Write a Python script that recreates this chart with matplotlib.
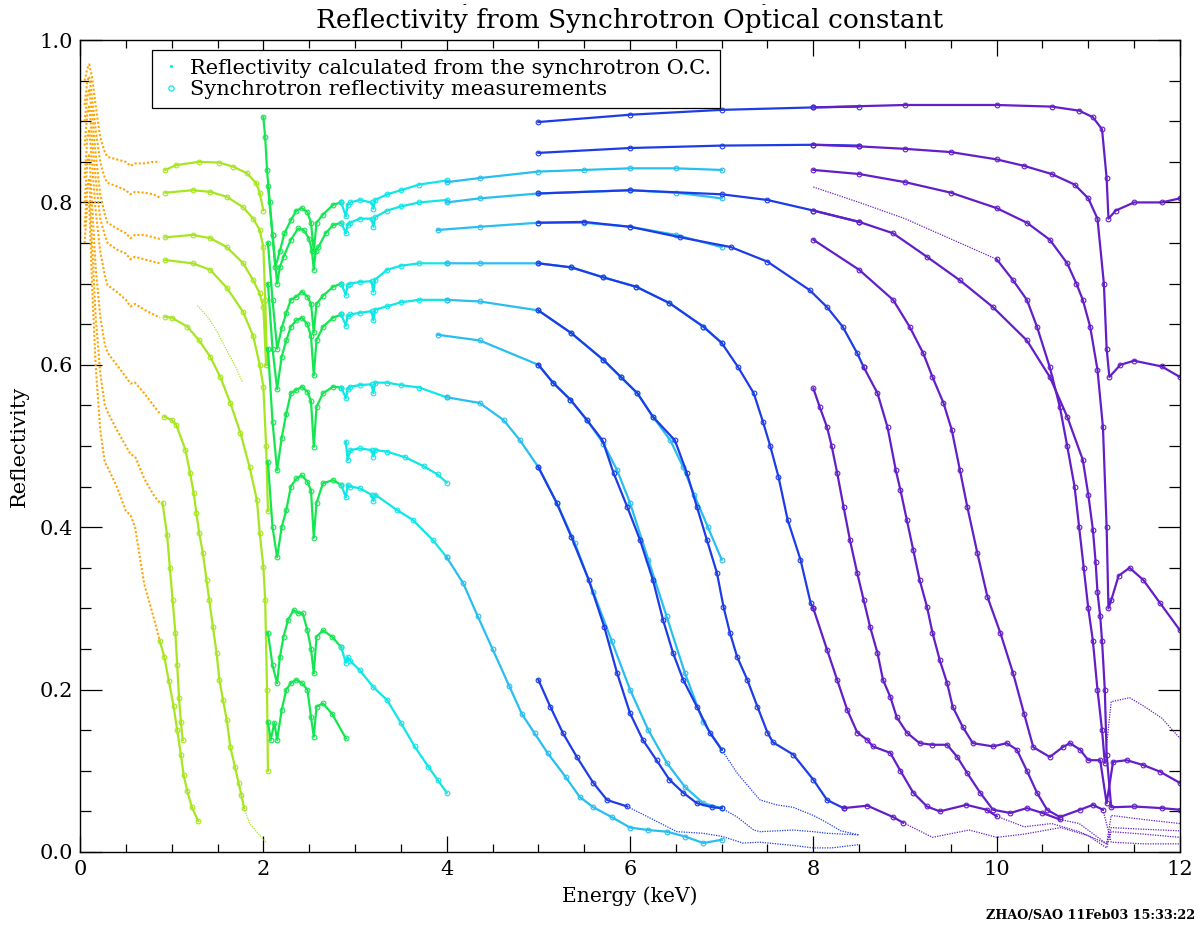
import matplotlib
matplotlib.use("Agg")
import matplotlib.pyplot as plt
from matplotlib.lines import Line2D
from matplotlib.ticker import MultipleLocator

plt.rcParams['font.family'] = ['DejaVu Serif']

# band colours (one per synchrotron energy range)
C_ORG = '#FFA500'
C_YGR = '#A6E620'
C_GRN = '#14E650'
C_CYN = '#10E6E6'
C_SKY = '#28BEF0'
C_BLU = '#1E3CE6'
C_VIO = '#641EC8'

# ---- 0.05 - 0.9 keV (orange)
e_org = [0.05, 0.08, 0.1, 0.13, 0.17, 0.22, 0.27, 0.3, 0.4, 0.5, 0.55, 0.6, 0.7, 0.8, 0.87]
r_o1 = [0.95, 0.965, 0.97, 0.955, 0.92, 0.88, 0.862, 0.856, 0.853, 0.85, 0.845, 0.848, 0.848, 0.85, 0.85]
r_o2 = [0.92, 0.95, 0.955, 0.93, 0.89, 0.85, 0.83, 0.824, 0.82, 0.815, 0.81, 0.813, 0.812, 0.81, 0.806]
r_o3 = [0.90, 0.93, 0.94, 0.91, 0.86, 0.81, 0.785, 0.775, 0.768, 0.762, 0.756, 0.76, 0.76, 0.757, 0.755]
r_o4 = [0.87, 0.91, 0.92, 0.88, 0.83, 0.78, 0.76, 0.75, 0.742, 0.737, 0.73, 0.733, 0.73, 0.727, 0.725]
r_o5 = [0.83, 0.88, 0.89, 0.85, 0.79, 0.74, 0.71, 0.698, 0.69, 0.68, 0.672, 0.675, 0.668, 0.662, 0.658]
r_o6 = [0.80, 0.85, 0.86, 0.80, 0.72, 0.66, 0.625, 0.615, 0.60, 0.585, 0.577, 0.578, 0.565, 0.55, 0.54]
r_o7 = [0.77, 0.82, 0.83, 0.75, 0.66, 0.59, 0.55, 0.542, 0.52, 0.50, 0.49, 0.487, 0.46, 0.44, 0.43]
r_o8 = [0.75, 0.80, 0.80, 0.70, 0.60, 0.52, 0.48, 0.474, 0.45, 0.42, 0.415, 0.40, 0.33, 0.29, 0.26]

# ---- 0.9 - 2.05 keV (yellow green)
e_y1 = [0.93, 1.05, 1.3, 1.52, 1.67, 1.82, 1.92, 1.96, 2.0]
r_y1 = [0.84, 0.846, 0.85, 0.849, 0.844, 0.836, 0.824, 0.812, 0.79]
e_y2 = [0.93, 1.23, 1.42, 1.6, 1.78, 1.89, 1.96, 2.0, 2.02, 2.04]
r_y2 = [0.812, 0.815, 0.813, 0.807, 0.794, 0.78, 0.766, 0.745, 0.68, 0.60]
e_y3 = [0.93, 1.23, 1.42, 1.6, 1.78, 1.89, 1.96, 2.0, 2.03]
r_y3 = [0.757, 0.76, 0.756, 0.745, 0.725, 0.704, 0.688, 0.671, 0.6]
e_y4 = [0.93, 1.23, 1.42, 1.6, 1.78, 1.89, 1.96, 2.0, 2.03, 2.05]
r_y4 = [0.729, 0.725, 0.717, 0.695, 0.665, 0.635, 0.60, 0.573, 0.5, 0.42]
e_y5 = [0.93, 1.0, 1.17, 1.3, 1.42, 1.53, 1.64, 1.75, 1.85, 1.93, 1.96, 2.0, 2.02, 2.04, 2.05]
r_y5 = [0.659, 0.658, 0.647, 0.63, 0.61, 0.585, 0.553, 0.516, 0.474, 0.433, 0.393, 0.351, 0.31, 0.2, 0.1]
e_y6 = [0.92, 1.0, 1.05, 1.15, 1.2, 1.24, 1.27, 1.3, 1.34, 1.38, 1.41, 1.45, 1.49, 1.52, 1.56, 1.6, 1.64, 1.69, 1.73, 1.76, 1.79]
r_y6 = [0.536, 0.532, 0.526, 0.495, 0.467, 0.442, 0.417, 0.393, 0.368, 0.335, 0.31, 0.277, 0.245, 0.212, 0.187, 0.163, 0.129, 0.105, 0.085, 0.07, 0.054]
e_y7 = [0.9, 0.95, 0.98, 1.01, 1.04, 1.06, 1.08, 1.1, 1.12]
r_y7 = [0.43, 0.39, 0.35, 0.31, 0.27, 0.23, 0.19, 0.16, 0.138]
e_y8 = [0.87, 0.92, 0.97, 1.02, 1.06, 1.1, 1.13, 1.17, 1.22, 1.29]
r_y8 = [0.26, 0.24, 0.21, 0.18, 0.15, 0.12, 0.095, 0.075, 0.055, 0.038]
e_y5c = [1.28, 1.4, 1.5, 1.6, 1.7, 1.77]
r_y5c = [0.673, 0.658, 0.64, 0.618, 0.597, 0.579]
e_y6c = [1.79, 1.85, 1.95, 2.03]
r_y6c = [0.054, 0.035, 0.022, 0.012]

# ---- 2.0 - 2.9 keV (green)
e_g1 = [2.0, 2.02, 2.04, 2.07, 2.1, 2.13, 2.18, 2.23, 2.3, 2.36, 2.42, 2.48, 2.52, 2.55, 2.58, 2.65, 2.76, 2.85]
r_g1 = [0.905, 0.88, 0.84, 0.80, 0.76, 0.72, 0.74, 0.762, 0.778, 0.79, 0.793, 0.788, 0.775, 0.74, 0.775, 0.785, 0.797, 0.80]
e_g2 = [2.05, 2.1, 2.15, 2.18, 2.22, 2.3, 2.38, 2.44, 2.5, 2.53, 2.55, 2.57, 2.6, 2.68, 2.76, 2.85]
r_g2 = [0.82, 0.76, 0.70, 0.72, 0.733, 0.754, 0.768, 0.766, 0.755, 0.74, 0.717, 0.74, 0.745, 0.762, 0.772, 0.775]
e_grn = [2.05, 2.1, 2.15, 2.2, 2.25, 2.3, 2.36, 2.42, 2.48, 2.52, 2.55, 2.58, 2.65, 2.76, 2.85]
r_g3 = [0.75, 0.68, 0.62, 0.645, 0.664, 0.68, 0.684, 0.69, 0.684, 0.675, 0.64, 0.675, 0.685, 0.696, 0.70]
r_g4 = [0.70, 0.62, 0.57, 0.61, 0.63, 0.647, 0.655, 0.658, 0.65, 0.635, 0.587, 0.63, 0.647, 0.658, 0.662]
r_g5 = [0.62, 0.53, 0.47, 0.51, 0.54, 0.565, 0.569, 0.573, 0.567, 0.555, 0.499, 0.548, 0.565, 0.573, 0.572]
r_g6 = [0.48, 0.40, 0.363, 0.40, 0.421, 0.45, 0.46, 0.464, 0.456, 0.445, 0.387, 0.43, 0.454, 0.458, 0.452]
e_g7 = [2.05, 2.1, 2.15, 2.18, 2.22, 2.27, 2.33, 2.38, 2.43, 2.48, 2.52, 2.55, 2.58, 2.65, 2.75, 2.85]
r_g7 = [0.27, 0.23, 0.208, 0.24, 0.265, 0.286, 0.298, 0.294, 0.294, 0.273, 0.25, 0.22, 0.265, 0.273, 0.265, 0.252]
e_g8 = [2.05, 2.08, 2.12, 2.15, 2.2, 2.25, 2.3, 2.36, 2.42, 2.48, 2.52, 2.55, 2.58, 2.65, 2.75, 2.9]
r_g8 = [0.16, 0.138, 0.159, 0.138, 0.175, 0.2, 0.208, 0.212, 0.208, 0.2, 0.166, 0.142, 0.179, 0.183, 0.17, 0.14]

# ---- 2.85 - 4 keV (cyan)
e_cyn = [2.85, 2.9, 2.92, 2.95, 3.05, 3.18, 3.2, 3.22, 3.35, 3.5, 3.7, 4.0]
r_c1 = [0.80, 0.783, 0.797, 0.80, 0.803, 0.80, 0.792, 0.803, 0.81, 0.815, 0.822, 0.827]
r_c2 = [0.775, 0.762, 0.772, 0.775, 0.78, 0.78, 0.77, 0.782, 0.79, 0.795, 0.80, 0.803]
r_c3 = [0.70, 0.686, 0.698, 0.70, 0.702, 0.703, 0.69, 0.705, 0.717, 0.722, 0.725, 0.725]
r_c4 = [0.662, 0.648, 0.66, 0.662, 0.664, 0.666, 0.655, 0.668, 0.672, 0.677, 0.68, 0.68]
r_c5 = [0.572, 0.559, 0.57, 0.573, 0.575, 0.576, 0.565, 0.578, 0.578, 0.575, 0.572, 0.56]
e_c6 = [2.9, 2.92, 2.95, 3.05, 3.18, 3.2, 3.22, 3.35, 3.55, 3.75, 3.9, 4.0]
r_c6 = [0.505, 0.483, 0.495, 0.497, 0.495, 0.487, 0.495, 0.493, 0.486, 0.475, 0.465, 0.455]
e_c7 = [2.85, 2.9, 2.92, 2.95, 3.05, 3.18, 3.2, 3.22, 3.46, 3.63, 3.85, 4.0]
r_c7 = [0.452, 0.437, 0.452, 0.45, 0.448, 0.44, 0.432, 0.44, 0.421, 0.409, 0.384, 0.363]
e_c8 = [2.85, 2.9, 2.92, 2.95, 3.05, 3.2, 3.35, 3.5, 3.65, 3.8, 3.9, 4.0]
r_c8 = [0.252, 0.233, 0.24, 0.235, 0.224, 0.203, 0.187, 0.159, 0.13, 0.105, 0.089, 0.073]

# ---- 3.9 - 7 keV (sky blue)
e_s1 = [4.0, 4.36, 5.0, 5.5, 6.0, 6.5, 7.0]
r_s1 = [0.825, 0.83, 0.838, 0.84, 0.842, 0.842, 0.84]
e_s2 = [4.0, 4.36, 5.0, 6.0, 6.5, 7.0]
r_s2 = [0.80, 0.805, 0.811, 0.815, 0.812, 0.805]
e_s3 = [3.9, 4.36, 5.0, 5.5, 6.0, 6.5, 7.0]
r_s3 = [0.766, 0.77, 0.775, 0.775, 0.77, 0.76, 0.745]
e_s4 = [4.0, 4.36, 5.0, 5.36, 5.7, 6.07, 6.43, 6.8, 7.0]
r_s4 = [0.725, 0.725, 0.725, 0.72, 0.708, 0.696, 0.676, 0.647, 0.627]
e_s5 = [4.0, 4.36, 5.0, 5.36, 5.71, 5.9, 6.08, 6.25, 6.44, 6.58, 6.7, 6.85, 7.0]
r_s5 = [0.68, 0.678, 0.667, 0.639, 0.606, 0.585, 0.565, 0.536, 0.507, 0.474, 0.44, 0.40, 0.36]
e_s6 = [3.9, 4.36, 5.0, 5.16, 5.35, 5.53, 5.71, 5.86, 6.0, 6.2, 6.4, 6.6, 6.8, 7.0]
r_s6 = [0.637, 0.63, 0.60, 0.578, 0.557, 0.532, 0.503, 0.47, 0.43, 0.36, 0.29, 0.22, 0.16, 0.126]
e_s7 = [4.0, 4.36, 4.62, 4.8, 5.0, 5.2, 5.4, 5.6, 5.8, 6.0, 6.2, 6.4, 6.6, 6.8, 7.0]
r_s7 = [0.56, 0.553, 0.532, 0.507, 0.474, 0.43, 0.38, 0.32, 0.26, 0.2, 0.15, 0.11, 0.08, 0.06, 0.054]
e_s8 = [4.0, 4.18, 4.34, 4.5, 4.68, 4.82, 4.96, 5.1, 5.3, 5.45, 5.6, 5.8, 6.0, 6.2, 6.4, 6.6, 6.8, 7.0]
r_s8 = [0.363, 0.331, 0.29, 0.25, 0.205, 0.17, 0.146, 0.122, 0.092, 0.068, 0.055, 0.043, 0.03, 0.027, 0.025, 0.019, 0.011, 0.015]

# ---- 5 - 8.5 keV (blue)
e_b1 = [5.0, 6.0, 7.0, 8.0, 8.5]
r_b1 = [0.899, 0.908, 0.914, 0.917, 0.918]
e_b2 = [5.0, 6.0, 7.0, 8.0, 8.5]
r_b2 = [0.861, 0.867, 0.870, 0.871, 0.870]
e_b3 = [5.0, 6.0, 7.0, 7.5, 8.0, 8.5]
r_b3 = [0.811, 0.815, 0.81, 0.803, 0.79, 0.776]
e_b4 = [5.0, 5.5, 6.0, 6.55, 7.1, 7.5, 7.96, 8.15, 8.32, 8.48, 8.55]
r_b4 = [0.775, 0.776, 0.77, 0.757, 0.745, 0.727, 0.692, 0.671, 0.647, 0.614, 0.597]
e_b5 = [5.0, 5.36, 5.7, 6.07, 6.43, 6.8, 7.0, 7.18, 7.35, 7.45, 7.53, 7.62, 7.72, 7.86, 7.97, 8.0]
r_b5 = [0.725, 0.72, 0.708, 0.696, 0.676, 0.647, 0.627, 0.597, 0.565, 0.53, 0.50, 0.462, 0.409, 0.36, 0.307, 0.30]
e_b6 = [5.0, 5.36, 5.71, 5.9, 6.08, 6.25, 6.49, 6.62, 6.73, 6.84, 6.95, 7.02, 7.09, 7.17, 7.28, 7.39, 7.5, 7.56, 7.78, 8.0, 8.15, 8.33]
r_b6 = [0.667, 0.639, 0.606, 0.585, 0.565, 0.536, 0.507, 0.467, 0.425, 0.384, 0.343, 0.302, 0.27, 0.24, 0.212, 0.179, 0.147, 0.135, 0.12, 0.089, 0.064, 0.054]
e_b7 = [5.0, 5.16, 5.35, 5.53, 5.7, 5.82, 5.97, 6.11, 6.25, 6.36, 6.47, 6.58, 6.73, 6.87, 7.0]
r_b7 = [0.60, 0.578, 0.557, 0.532, 0.507, 0.467, 0.425, 0.384, 0.335, 0.286, 0.245, 0.212, 0.179, 0.147, 0.126]
e_b8 = [5.0, 5.2, 5.36, 5.55, 5.72, 5.86, 6.0, 6.14, 6.29, 6.43, 6.58, 6.73, 6.9, 7.0]
r_b8 = [0.474, 0.43, 0.388, 0.335, 0.277, 0.22, 0.171, 0.138, 0.113, 0.089, 0.073, 0.06, 0.055, 0.054]
e_b9 = [5.0, 5.13, 5.27, 5.42, 5.6, 5.75, 5.97]
r_b9 = [0.212, 0.179, 0.146, 0.117, 0.085, 0.064, 0.056]
# blue calculated tails
e_b7c = [7.0, 7.17, 7.35, 7.42, 7.6, 7.78, 8.0, 8.15, 8.3, 8.5]
r_b7c = [0.126, 0.097, 0.073, 0.064, 0.058, 0.055, 0.045, 0.036, 0.026, 0.021]
e_b8c = [7.0, 7.17, 7.35, 7.42, 7.6, 7.78, 8.0, 8.15, 8.5]
r_b8c = [0.054, 0.043, 0.027, 0.025, 0.026, 0.027, 0.025, 0.023, 0.021]
e_b9c = [5.97, 6.25, 6.51, 6.8, 7.01, 7.23, 7.42, 7.78, 8.0, 8.2, 8.5]
r_b9c = [0.056, 0.04, 0.025, 0.023, 0.019, 0.011, 0.012, 0.008, 0.005, 0.005, 0.009]

# ---- 8 - 12 keV (violet)
e_v1 = [8.0, 9.0, 10.0, 10.6, 10.9, 11.05, 11.15, 11.2, 11.22, 11.3, 11.5, 11.8, 12.0]
r_v1 = [0.917, 0.92, 0.92, 0.918, 0.913, 0.905, 0.89, 0.83, 0.78, 0.79, 0.80, 0.80, 0.805]
e_v2 = [8.0, 8.5, 9.0, 9.5, 10.0, 10.3, 10.6, 10.85, 11.0, 11.1, 11.17, 11.2, 11.23, 11.35, 11.5, 11.8, 12.0]
r_v2 = [0.871, 0.869, 0.866, 0.862, 0.853, 0.845, 0.835, 0.822, 0.805, 0.78, 0.70, 0.62, 0.585, 0.60, 0.605, 0.598, 0.585]
e_v3 = [8.0, 8.5, 9.0, 9.5, 10.0, 10.33, 10.58, 10.77, 10.87, 10.94, 11.02, 11.1, 11.16, 11.2, 11.22, 11.25, 11.33, 11.45, 11.6, 11.78, 12.0]
r_v3 = [0.84, 0.835, 0.825, 0.812, 0.793, 0.775, 0.754, 0.725, 0.70, 0.68, 0.647, 0.594, 0.523, 0.40, 0.30, 0.31, 0.34, 0.35, 0.335, 0.307, 0.273]
e_v3c = [8.0, 8.5, 9.0, 9.5, 10.0]
r_v3c = [0.819, 0.80, 0.78, 0.755, 0.73]
e_v3m = [10.0, 10.18, 10.33, 10.44, 10.58, 10.69, 10.77, 10.85, 10.9, 10.95, 11.0, 11.05, 11.1, 11.15, 11.18]
r_v3m = [0.73, 0.704, 0.68, 0.647, 0.597, 0.548, 0.5, 0.45, 0.40, 0.35, 0.30, 0.26, 0.2, 0.15, 0.11]
e_v4 = [8.0, 8.5, 8.87, 9.24, 9.6, 9.96, 10.33, 10.58, 10.77, 10.94, 11.0, 11.05, 11.08, 11.1, 11.13, 11.15, 11.18, 11.2, 11.25, 11.5, 11.8, 12.0]
r_v4 = [0.79, 0.776, 0.762, 0.733, 0.704, 0.671, 0.63, 0.585, 0.536, 0.483, 0.44, 0.397, 0.357, 0.32, 0.29, 0.26, 0.2, 0.12, 0.055, 0.056, 0.054, 0.052]
e_v5 = [8.0, 8.5, 8.87, 9.05, 9.2, 9.3, 9.42, 9.51, 9.6, 9.68, 9.79, 9.9, 10.04, 10.18, 10.3, 10.4, 10.58, 10.72, 10.8, 10.91, 11.0, 11.13, 11.2, 11.27, 11.42, 11.6, 11.78, 12.0]
r_v5 = [0.754, 0.717, 0.68, 0.647, 0.614, 0.585, 0.553, 0.52, 0.47, 0.425, 0.368, 0.314, 0.27, 0.22, 0.17, 0.129, 0.117, 0.129, 0.134, 0.126, 0.113, 0.113, 0.06, 0.111, 0.113, 0.107, 0.099, 0.085]
e_v6 = [8.0, 8.15, 8.26, 8.37, 8.48, 8.59, 8.65, 8.84, 8.95, 9.09, 9.24, 9.38, 9.67, 9.89, 10.0]
r_v6 = [0.30, 0.249, 0.212, 0.175, 0.147, 0.138, 0.13, 0.122, 0.10, 0.073, 0.056, 0.05, 0.058, 0.052, 0.044]
e_v7 = [8.55, 8.7, 8.81, 8.9, 8.95, 9.02, 9.09, 9.16, 9.24, 9.3, 9.38, 9.46, 9.52, 9.63, 9.74, 9.96, 10.11, 10.22, 10.33, 10.44, 10.55, 10.69, 10.91, 11.05, 11.16]
r_v7 = [0.597, 0.565, 0.523, 0.47, 0.446, 0.409, 0.372, 0.335, 0.302, 0.27, 0.236, 0.208, 0.179, 0.154, 0.134, 0.13, 0.134, 0.126, 0.10, 0.073, 0.052, 0.043, 0.052, 0.058, 0.052]
e_v8 = [8.0, 8.07, 8.15, 8.2, 8.26, 8.33, 8.4, 8.48, 8.55, 8.62, 8.7, 8.76, 8.84, 8.91, 9.02, 9.16, 9.3, 9.46, 9.57, 9.68, 9.82, 9.96, 10.15, 10.33, 10.5, 10.69]
r_v8 = [0.571, 0.548, 0.523, 0.50, 0.467, 0.425, 0.384, 0.343, 0.31, 0.277, 0.245, 0.212, 0.191, 0.166, 0.147, 0.134, 0.132, 0.132, 0.117, 0.097, 0.073, 0.052, 0.048, 0.054, 0.048, 0.04]
e_v9 = [8.33, 8.59, 8.87, 8.98]
r_v9 = [0.054, 0.057, 0.043, 0.036]
# violet calculated tails
e_t1 = [8.98, 9.3, 9.7, 10.0, 10.3, 10.7, 11.0, 11.2, 11.25, 11.6, 12.0]
r_t1 = [0.036, 0.018, 0.027, 0.018, 0.022, 0.03, 0.02, 0.005, 0.025, 0.022, 0.018]
e_t2 = [10.0, 10.3, 10.6, 10.9, 11.2, 11.25, 11.6, 12.0]
r_t2 = [0.044, 0.031, 0.035, 0.025, 0.01, 0.045, 0.04, 0.035]
e_t3 = [10.69, 10.9, 11.2, 11.25, 11.6, 12.0]
r_t3 = [0.04, 0.035, 0.01, 0.03, 0.028, 0.026]
e_t4 = [11.18, 11.25, 11.45, 11.6, 11.8, 12.0]
r_t4 = [0.11, 0.185, 0.19, 0.18, 0.165, 0.14]
e_t5 = [11.16, 11.25, 11.6, 12.0]
r_t5 = [0.052, 0.012, 0.01, 0.01]

fig = plt.figure(figsize=(12, 9.31), dpi=100)
ax = fig.add_axes([0.0667, 0.0849, 0.9166, 0.8721])


def meas(e, r, c):
    ax.plot(e, r, '-', color=c, lw=1.6, marker='o', ms=3.4, mfc='none', mew=0.8)


def calc(e, r, c, lw=0.9):
    ax.plot(e, r, color=c, lw=lw, ls=(0, (1, 1)))


# orange band is dense calculated-like dots
for r in [r_o1, r_o2, r_o3, r_o4, r_o5, r_o6, r_o7, r_o8]:
    calc(e_org, r, C_ORG, lw=1.5)

for e, r in [(e_y1, r_y1), (e_y2, r_y2), (e_y3, r_y3), (e_y4, r_y4), (e_y5, r_y5),
             (e_y6, r_y6), (e_y7, r_y7), (e_y8, r_y8)]:
    meas(e, r, C_YGR)
calc(e_y5c, r_y5c, C_YGR)
calc(e_y6c, r_y6c, C_YGR)

for e, r in [(e_g1, r_g1), (e_g2, r_g2), (e_grn, r_g3), (e_grn, r_g4), (e_grn, r_g5),
             (e_grn, r_g6), (e_g7, r_g7), (e_g8, r_g8)]:
    meas(e, r, C_GRN)

for e, r in [(e_cyn, r_c1), (e_cyn, r_c2), (e_cyn, r_c3), (e_cyn, r_c4), (e_cyn, r_c5),
             (e_c6, r_c6), (e_c7, r_c7), (e_c8, r_c8)]:
    meas(e, r, C_CYN)

for e, r in [(e_s1, r_s1), (e_s2, r_s2), (e_s3, r_s3), (e_s4, r_s4), (e_s5, r_s5),
             (e_s6, r_s6), (e_s7, r_s7), (e_s8, r_s8)]:
    meas(e, r, C_SKY)

for e, r in [(e_b1, r_b1), (e_b2, r_b2), (e_b3, r_b3), (e_b4, r_b4), (e_b5, r_b5),
             (e_b6, r_b6), (e_b7, r_b7), (e_b8, r_b8), (e_b9, r_b9)]:
    meas(e, r, C_BLU)
for e, r in [(e_b7c, r_b7c), (e_b8c, r_b8c), (e_b9c, r_b9c)]:
    calc(e, r, C_BLU)

for e, r in [(e_v1, r_v1), (e_v2, r_v2), (e_v3, r_v3), (e_v3m, r_v3m), (e_v4, r_v4),
             (e_v5, r_v5), (e_v6, r_v6), (e_v7, r_v7), (e_v8, r_v8), (e_v9, r_v9)]:
    meas(e, r, C_VIO)
for e, r in [(e_v3c, r_v3c), (e_t1, r_t1), (e_t2, r_t2), (e_t3, r_t3), (e_t4, r_t4), (e_t5, r_t5)]:
    calc(e, r, C_VIO)

ax.set_xlim(0, 12)
ax.set_ylim(0, 1.0)
ax.xaxis.set_major_locator(MultipleLocator(2))
ax.xaxis.set_minor_locator(MultipleLocator(0.5))
ax.yaxis.set_major_locator(MultipleLocator(0.2))
ax.yaxis.set_minor_locator(MultipleLocator(0.05))
ax.xaxis.set_major_formatter(plt.FuncFormatter(lambda v, p: '%d' % v))
ax.yaxis.set_major_formatter(plt.FuncFormatter(lambda v, p: '%.1f' % v))
ax.tick_params(which='both', direction='in', top=True, right=True, colors='black', labelsize=15)
ax.tick_params(axis='x', which='major', length=11.5, width=0.9, pad=6)
ax.tick_params(axis='x', which='minor', length=5.8, width=0.9)
ax.tick_params(axis='y', which='major', length=15.8, width=0.9, pad=5)
ax.tick_params(axis='y', which='minor', length=7.9, width=0.9)
for s in ax.spines.values():
    s.set_linewidth(1.0)

ax.set_xlabel('Energy (keV)', fontsize=14.6, labelpad=5)
ax.set_ylabel('Reflectivity', fontsize=15, labelpad=8)
fig.text(0.525, 0.978, 'Reflectivity from Synchrotron Optical constant', ha='center', va='center', fontsize=19)
# two stray marks printed above the title
fig.text(0.387, 0.995, '-', ha='center', va='center', fontsize=8)
fig.text(0.636, 0.995, '-', ha='center', va='center', fontsize=8)

handles = [Line2D([], [], ls='none', marker='.', ms=2.5, color=C_CYN),
           Line2D([], [], ls='none', marker='o', ms=3.8, mfc='none', mew=0.9, color=C_CYN)]
labels = ['Reflectivity calculated from the synchrotron O.C.',
          'Synchrotron reflectivity measurements']
leg = ax.legend(handles, labels, loc='upper left', bbox_to_anchor=(0.065, 0.988), fontsize=15,
                frameon=True, fancybox=False, framealpha=1, edgecolor='black', handlelength=1.0,
                handletextpad=0.45, borderpad=0.42, labelspacing=0.12, borderaxespad=0)
leg.get_frame().set_linewidth(0.9)

fig.text(0.996, 0.01, 'ZHAO/SAO 11Feb03 15:33:22', ha='right', va='bottom', fontsize=9.2, weight='bold')

fig.savefig('out.png', dpi=100)
